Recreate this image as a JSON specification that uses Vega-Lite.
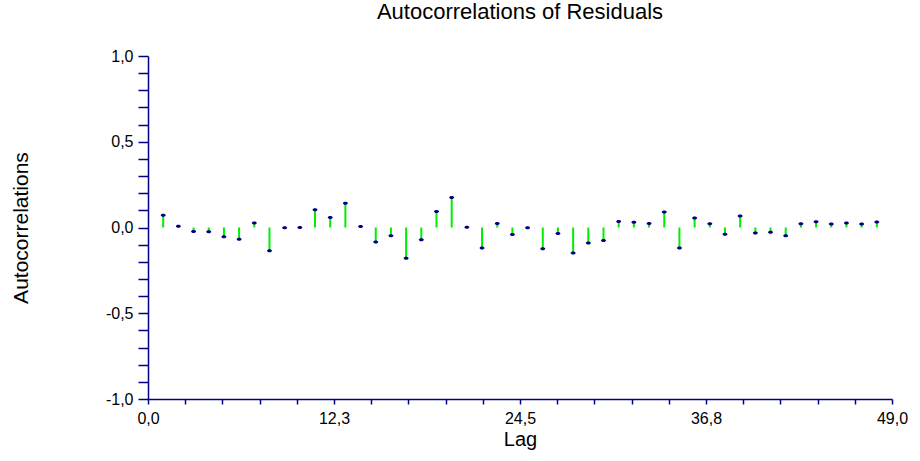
{
  "$schema": "https://vega.github.io/schema/vega-lite/v6.json",
  "autosize": "none",
  "width": 744,
  "height": 343,
  "padding": {"left": 148, "top": 56, "right": 28, "bottom": 62},
  "background": "white",
  "config": {
    "view": {"stroke": null},
    "font": "Liberation Sans",
    "axis": {
      "grid": false,
      "domainColor": "#000080",
      "tickColor": "#000080",
      "domainWidth": 1.5,
      "tickWidth": 1.5,
      "labelColor": "black",
      "titleColor": "black",
      "labelFont": "Liberation Sans",
      "titleFont": "Liberation Sans",
      "labelFontSize": 16,
      "titleFontSize": 20,
      "titleFontWeight": "normal",
      "labelOverlap": false,
      "labelBound": false,
      "labelFlush": false
    }
  },
  "title": {
    "text": "Autocorrelations of Residuals",
    "font": "Liberation Sans",
    "fontSize": 22,
    "fontWeight": "normal",
    "color": "black",
    "anchor": "middle",
    "baseline": "bottom",
    "offset": 2
  },
  "data": {
    "values": [
      {"lag": 1, "acf": 0.072}, {"lag": 2, "acf": 0.008}, {"lag": 3, "acf": -0.023}, {"lag": 4, "acf": -0.025},
      {"lag": 5, "acf": -0.054}, {"lag": 6, "acf": -0.068}, {"lag": 7, "acf": 0.026}, {"lag": 8, "acf": -0.136},
      {"lag": 9, "acf": -0.002}, {"lag": 10, "acf": 0.0}, {"lag": 11, "acf": 0.103}, {"lag": 12, "acf": 0.058},
      {"lag": 13, "acf": 0.142}, {"lag": 14, "acf": 0.006}, {"lag": 15, "acf": -0.085}, {"lag": 16, "acf": -0.048},
      {"lag": 17, "acf": -0.179}, {"lag": 18, "acf": -0.072}, {"lag": 19, "acf": 0.093}, {"lag": 20, "acf": 0.175},
      {"lag": 21, "acf": 0.002}, {"lag": 22, "acf": -0.12}, {"lag": 23, "acf": 0.023}, {"lag": 24, "acf": -0.041},
      {"lag": 25, "acf": -0.002}, {"lag": 26, "acf": -0.124}, {"lag": 27, "acf": -0.035}, {"lag": 28, "acf": -0.148},
      {"lag": 29, "acf": -0.091}, {"lag": 30, "acf": -0.076}, {"lag": 31, "acf": 0.035}, {"lag": 32, "acf": 0.031},
      {"lag": 33, "acf": 0.024}, {"lag": 34, "acf": 0.09}, {"lag": 35, "acf": -0.12}, {"lag": 36, "acf": 0.055},
      {"lag": 37, "acf": 0.022}, {"lag": 38, "acf": -0.04}, {"lag": 39, "acf": 0.067}, {"lag": 40, "acf": -0.032},
      {"lag": 41, "acf": -0.028}, {"lag": 42, "acf": -0.048}, {"lag": 43, "acf": 0.022}, {"lag": 44, "acf": 0.034},
      {"lag": 45, "acf": 0.02}, {"lag": 46, "acf": 0.026}, {"lag": 47, "acf": 0.02}, {"lag": 48, "acf": 0.032}
    ]
  },
  "encoding": {
    "x": {
      "field": "lag",
      "type": "quantitative",
      "title": "Lag",
      "scale": {"domain": [0, 49], "nice": false, "zero": false},
      "axis": {
        "values": [0, 2.45, 4.9, 7.35, 9.8, 12.25, 14.7, 17.15, 19.6, 22.05, 24.5, 26.95, 29.4, 31.85, 34.3, 36.75, 39.2, 41.65, 44.1, 46.55, 49],
        "labelExpr": "indexof([0, 12.25, 24.5, 36.75, 49], datum.value) >= 0 ? replace(format(datum.value, '.1f'), '.', ',') : ''",
        "tickSize": 5,
        "labelPadding": 6,
        "titlePadding": 3
      }
    },
    "y": {
      "field": "acf",
      "type": "quantitative",
      "title": "Autocorrelations",
      "scale": {"domain": [-1, 1], "nice": false},
      "axis": {
        "values": [-1, -0.9, -0.8, -0.7, -0.6, -0.5, -0.4, -0.3, -0.2, -0.1, 0, 0.1, 0.2, 0.3, 0.4, 0.5, 0.6, 0.7, 0.8, 0.9, 1],
        "labelExpr": "abs(datum.value * 2 - round(datum.value * 2)) < 0.001 ? replace(replace(format(datum.value, '.1f'), '.', ','), '\u2212', '-') : ''",
        "tickSize": 10,
        "labelPadding": 5,
        "titlePadding": 74,
        "titleFontSize": 21
      }
    }
  },
  "layer": [
    {
      "mark": {"type": "rule", "color": "#00ee00", "strokeWidth": 2},
      "encoding": {"y2": {"datum": 0}}
    },
    {
      "mark": {
        "type": "point",
        "filled": true,
        "color": "#000080",
        "opacity": 1,
        "size": 25,
        "shape": "M -1 0 A 1 0.6 0 1 0 1 0 A 1 0.6 0 1 0 -1 0 Z"
      }
    }
  ]
}
